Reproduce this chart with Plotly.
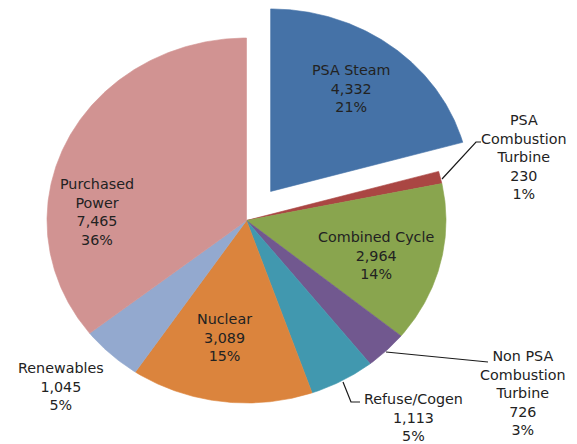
import math
import plotly.graph_objects as go

# ---- data ----
labels = ["PSA Steam", "PSA Combustion Turbine", "Combined Cycle",
          "Non PSA Combustion Turbine", "Refuse/Cogen", "Nuclear",
          "Renewables", "Purchased Power"]
values = [4332, 230, 2964, 726, 1113, 3089, 1045, 7465]
label_lines = [["PSA Steam"], ["PSA", "Combustion", "Turbine"], ["Combined Cycle"],
               ["Non PSA", "Combustion", "Turbine"], ["Refuse/Cogen"], ["Nuclear"],
               ["Renewables"], ["Purchased", "Power"]]
colors = ["#4572A7", "#AA4643", "#89A54E", "#71588F", "#4198AF", "#DB843D",
          "#93A9CF", "#D19392"]
pulls = [0.2, 0, 0, 0, 0, 0, 0, 0]

# ---- layout geometry (page pixels; page body has an 8px margin) ----
BODY = 8
FIG_W, FIG_H = 577 - BODY, 444 - BODY
CX, CY = 246.5, 220.5      # pie centre on the page
RX, RY = 199.5, 182.5      # elliptical pie radii on the page

def dx(X):
    return (X - CX) / RX
def dy(Y):
    return (CY - Y) / RY

# label centre positions (page pixels)
label_pos = [(351, 88.5), (524, 157), (376, 255), (523, 392.5), (413, 417.5),
             (224, 337), (61, 386.5), (97, 211.5)]

total = sum(values)
fig = go.Figure()
cum = 0.0
for lab, v, col, pl in zip(labels, values, colors, pulls):
    a0 = 2 * math.pi * cum / total
    a1 = 2 * math.pi * (cum + v) / total
    cum += v
    mid = (a0 + a1) / 2
    ox, oy = pl * math.sin(mid), pl * math.cos(mid)
    n = max(4, int((a1 - a0) / (2 * math.pi) * 720))
    xs, ys = [ox], [oy]
    for k in range(n + 1):
        t = a0 + (a1 - a0) * k / n
        xs.append(ox + math.sin(t))
        ys.append(oy + math.cos(t))
    xs.append(ox)
    ys.append(oy)
    pct = round(100 * v / total)
    fig.add_trace(go.Scatter(
        x=xs, y=ys, mode="lines", fill="toself", fillcolor=col,
        line=dict(color=col, width=0.6), showlegend=False, name=lab,
        hoveron="fills", text=f"{lab}: {v:,} ({pct}%)", hoverinfo="text",
    ))

annotations = []
for lines, v, (X, Y) in zip(label_lines, values, label_pos):
    pct = round(100 * v / total)
    text = "<br>".join(lines + [f"{v:,}", f"{pct}%"])
    annotations.append(dict(
        x=dx(X), y=dy(Y), xref="x", yref="y", text=text,
        showarrow=False, xanchor="center", yanchor="middle",
        font=dict(family="DejaVu Sans, Verdana, sans-serif", size=14.3, color="#222222"),
    ))

def path(pts):
    return "M " + " L ".join(f"{dx(X)} {dy(Y)}" for X, Y in pts)

shapes = [
    dict(type="path", xref="x", yref="y", path=path([(442, 179), (476, 142), (481, 142)]),
         line=dict(color="#1a1a1a", width=1.2)),
    dict(type="path", xref="x", yref="y", path=path([(386, 352), (488, 362)]),
         line=dict(color="#1a1a1a", width=1.2)),
    dict(type="path", xref="x", yref="y", path=path([(343, 382), (351, 402), (360, 402)]),
         line=dict(color="#1a1a1a", width=1.2)),
]

fig.update_layout(
    width=FIG_W, height=FIG_H, margin=dict(l=0, r=0, t=0, b=0),
    paper_bgcolor="white", plot_bgcolor="white",
    annotations=annotations, shapes=shapes,
    xaxis=dict(range=[dx(BODY), dx(577)], visible=False, fixedrange=True),
    yaxis=dict(range=[dy(444), dy(BODY)], visible=False, fixedrange=True),
)
fig.write_html("out.html")
